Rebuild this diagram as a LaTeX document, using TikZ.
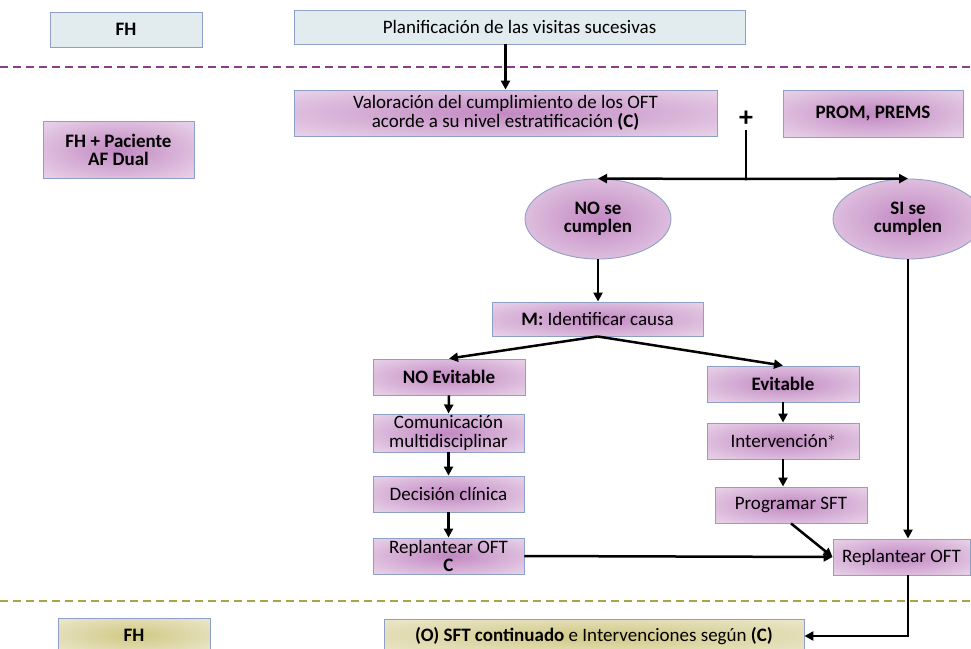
\documentclass[tikz,border=0pt]{standalone}
\usepackage{fontspec}
\setmainfont{Carlito}
\usetikzlibrary{arrows.meta,shapes.geometric,calc}
\definecolor{bordc}{RGB}{143,160,200}
\definecolor{bluef}{RGB}{226,236,239}
\definecolor{purc}{RGB}{194,136,194}
\definecolor{pure}{RGB}{242,230,242}
\definecolor{olc}{RGB}{208,200,132}
\definecolor{ole}{RGB}{242,239,222}
\definecolor{purdash}{RGB}{140,60,140}
\definecolor{oldash}{RGB}{172,162,72}
\pgfdeclareradialshading{purshade}{\pgfpoint{0bp}{0bp}}{color(0bp)=(purc); color(44bp)=(pure); color(50bp)=(pure)}
\pgfdeclareradialshading{olshade}{\pgfpoint{0bp}{0bp}}{color(0bp)=(olc); color(44bp)=(ole); color(50bp)=(ole)}
\tikzset{
  base/.style={draw=bordc, line width=0.9pt, align=center, inner sep=0pt,
    font=\fontsize{19}{18.5}\selectfont},
  bluebox/.style={base, fill=bluef},
  purbox/.style={base, shading=purshade},
  olbox/.style={base, shading=olshade},
  purell/.style={base, ellipse, shading=purshade},
  arr/.style={line width=2.5pt, -{Triangle[length=9pt,width=9pt]}},
  plain/.style={line width=2.5pt},
  dashline/.style={line width=2pt, dash pattern=on 8pt off 5pt}
}
\begin{document}
\begin{tikzpicture}[x=1pt,y=-1pt]
\useasboundingbox (0,0) rectangle (971,648);
\clip (0,0) rectangle (971,648);
% separator lines
\coordinate (pl) at (0,67);
\coordinate (pr) at (971,67);
\coordinate (ol) at (0,601);
\coordinate (or) at (971,601);
\draw[dashline, purdash] (pl) -- (pr);
\draw[dashline, oldash] (ol) -- (or);

% nodes
\node[bluebox, minimum width=152pt, minimum height=35pt] (fh1) at (126,29.5) {\bfseries FH};
\node[bluebox, minimum width=451pt, minimum height=34pt] (plan) at (519.5,27) {Planificación de las visitas sucesivas};
\node[purbox, minimum width=423pt, minimum height=46pt] (val) at (505.5,113) {Valoración del cumplimiento de los OFT\\acorde a su nivel estratificación \textbf{(C)}};
\node[purbox, minimum width=180pt, minimum height=47pt] (prom) at (873,113.5) {\bfseries PROM, PREMS};
\node[purbox, minimum width=151pt, minimum height=57pt] (fhp) at (118.5,150) {\bfseries FH + Paciente\\\bfseries AF Dual};
\node[font=\fontsize{28}{28}\selectfont\bfseries, inner sep=0pt] (plus) at (746,119) {+};
\node[purell, minimum width=146pt, minimum height=80pt] (no) at (598,219) {\bfseries NO se\\\bfseries cumplen};
\node[purell, minimum width=150pt, minimum height=80pt] (si) at (908,219) {\bfseries SI se\\\bfseries cumplen};
\node[purbox, minimum width=211pt, minimum height=34pt] (m) at (597.5,319) {\textbf{M:} Identificar causa};
\node[purbox, minimum width=152pt, minimum height=36pt] (noev) at (449,377) {\bfseries NO Evitable};
\node[purbox, minimum width=151pt, minimum height=38pt] (com) at (448.5,433) {Comunicación\\multidisciplinar};
\node[purbox, minimum width=151pt, minimum height=36pt] (dec) at (448.5,494) {Decisión clínica};
\node[purbox, minimum width=151pt, minimum height=36pt] (rep1) at (448.5,556) {Replantear OFT\\\textbf{C}};
\node[purbox, minimum width=152pt, minimum height=36pt] (ev) at (783,384) {\bfseries Evitable};
\node[purbox, minimum width=152pt, minimum height=36pt] (int) at (783,441) {Intervención$^{*}$};
\node[purbox, minimum width=152pt, minimum height=36pt] (prog) at (791,505) {Programar SFT};
\node[purbox, minimum width=137pt, minimum height=36pt] (rep2) at (901.5,557) {Replantear OFT};
\node[olbox, minimum width=152pt, minimum height=34pt] (fh2) at (134,635) {\bfseries FH};
\node[olbox, minimum width=420pt, minimum height=34pt] (obox) at (594,636) {\textbf{(O) SFT continuado} e Intervenciones según \textbf{(C)}};

% connectors
\coordinate (j) at (746,179);
\draw[arr] (plan.south -| val.north) -- (val.north);
\draw[plain] ([yshift=-3pt]plus.south) -- (j);
\draw[arr] (j) -- (no.north);
\draw[arr] (j) -- (si.north);
\draw[arr] (no.south) -- (m.north -| no.south);
\draw[arr] (m.south) -- (noev.north);
\draw[arr] (m.south) -- (ev.north);
\draw[arr] (noev.south) -- (com.north);
\draw[arr] (com.south) -- (dec.north);
\draw[arr] (dec.south) -- (rep1.north);
\draw[arr] (ev.south) -- (int.north);
\draw[arr] (int.south) -- (int.south |- prog.north);
\draw[arr] (prog.south) -- (rep2.west);
\draw[arr] (rep1.east) -- (rep2.west);
\draw[arr] (si.south) -- (si.south |- rep2.north);
\draw[arr] (rep2.south -| si.south) |- (obox.east);
\end{tikzpicture}
\end{document}
